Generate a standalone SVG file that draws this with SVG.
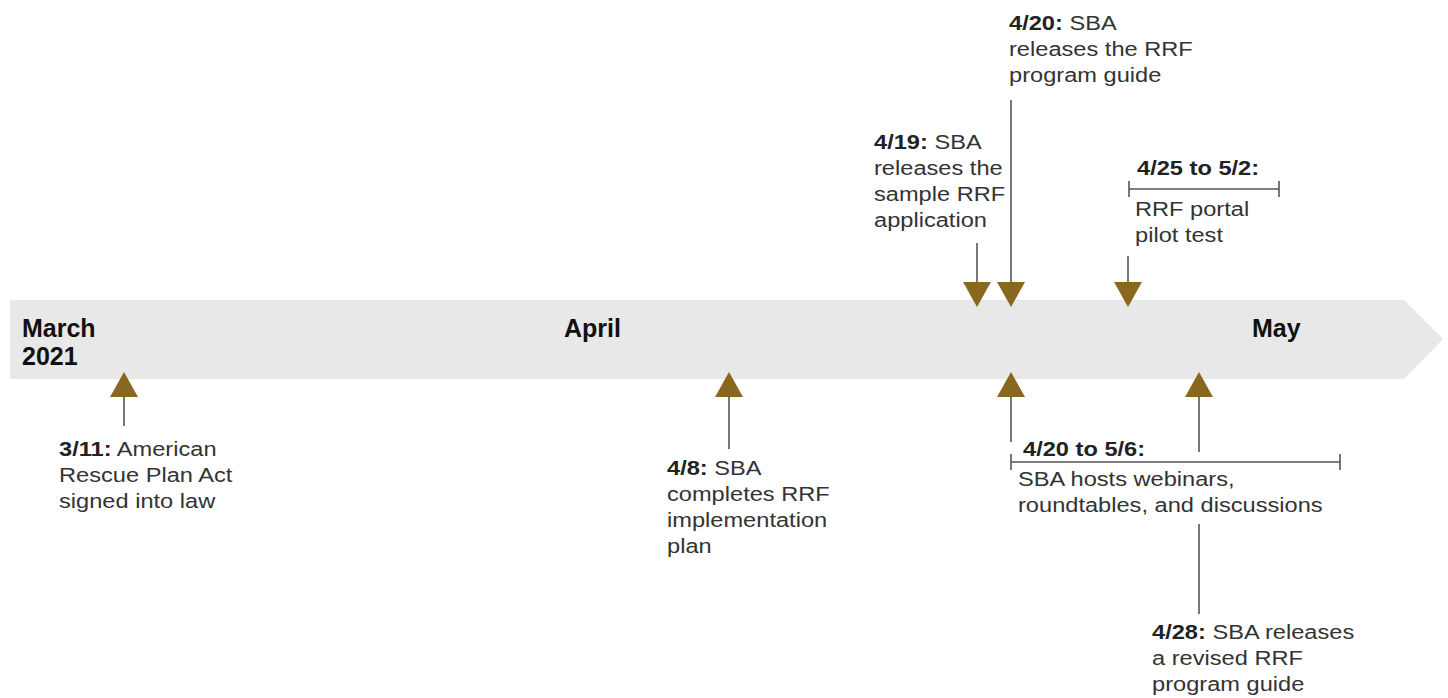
<svg xmlns="http://www.w3.org/2000/svg" width="1448" height="698" viewBox="0 0 1448 698">
<style>
.t{font-family:"Liberation Sans",Arial,sans-serif;font-size:21px;fill:#333}
.b{font-weight:bold;fill:#222}
.m{font-family:"Liberation Sans",Arial,sans-serif;font-size:25px;font-weight:bold;fill:#111}
.ln{stroke:#555;stroke-width:1.6;fill:none}
.tri{fill:#8a671f}
</style>
<rect width="1448" height="698" fill="#fff"/>
<g id="timeline">
<polygon points="10,300 1404,300 1443,339 1404,379 10,379" fill="#e8e8e8"/>
<text class="m" x="22" y="337">March<tspan x="22" y="365">2021</tspan></text>
<text class="m" x="564" y="337">April</text>
<text class="m" x="1252" y="337">May</text>
</g>
<g id="connectors">
<line class="ln" x1="124" y1="396" x2="124" y2="426"/>
<polygon class="tri" points="110,397 138,397 124,372"/>
<line class="ln" x1="729" y1="396" x2="729" y2="449"/>
<polygon class="tri" points="715,397 743,397 729,372"/>
<line class="ln" x1="1011" y1="396" x2="1011" y2="442"/>
<polygon class="tri" points="997,397 1025,397 1011,372"/>
<line class="ln" x1="1199" y1="396" x2="1199" y2="452"/>
<polygon class="tri" points="1185,397 1213,397 1199,372"/>
<line class="ln" x1="1199" y1="524" x2="1199" y2="614"/>
<line class="ln" x1="977" y1="243" x2="977" y2="284"/>
<polygon class="tri" points="963,282 991,282 977,307"/>
<line class="ln" x1="1011" y1="100" x2="1011" y2="284"/>
<polygon class="tri" points="997,282 1025,282 1011,307"/>
<line class="ln" x1="1128" y1="256" x2="1128" y2="284"/>
<polygon class="tri" points="1114,282 1142,282 1128,307"/>
<g id="bracket-0425">
<line class="ln" x1="1129" y1="189" x2="1279" y2="189" stroke-width="1.3"/>
<line class="ln" x1="1129" y1="181" x2="1129" y2="197" stroke-width="1.3"/>
<line class="ln" x1="1279" y1="181" x2="1279" y2="197" stroke-width="1.3"/>
</g>
<g id="bracket-0420">
<line class="ln" x1="1011" y1="462" x2="1340" y2="462" stroke-width="1.3"/>
<line class="ln" x1="1011" y1="454" x2="1011" y2="470" stroke-width="1.3"/>
<line class="ln" x1="1340" y1="454" x2="1340" y2="470" stroke-width="1.3"/>
</g>
</g>
<g id="e0311">
<text class="t" transform="translate(59,456) scale(1.125,1)"><tspan class="b">3/11:</tspan> American<tspan x="0" y="26">Rescue Plan Act</tspan><tspan x="0" y="52">signed into law</tspan></text>
</g>
<g id="e0408">
<text class="t" transform="translate(667,475) scale(1.125,1)"><tspan class="b">4/8:</tspan> SBA<tspan x="0" y="26">completes RRF</tspan><tspan x="0" y="52">implementation</tspan><tspan x="0" y="78">plan</tspan></text>
</g>
<g id="e0419">
<text class="t" transform="translate(874,149) scale(1.125,1)"><tspan class="b">4/19:</tspan> SBA<tspan x="0" y="26">releases the</tspan><tspan x="0" y="52">sample RRF</tspan><tspan x="0" y="78">application</tspan></text>
</g>
<g id="e0420">
<text class="t" transform="translate(1009,30) scale(1.125,1)"><tspan class="b">4/20:</tspan> SBA<tspan x="0" y="26">releases the RRF</tspan><tspan x="0" y="52">program guide</tspan></text>
</g>
<g id="e0425">
<text class="t" transform="translate(1137,175) scale(1.125,1)"><tspan class="b">4/25 to 5/2:</tspan></text>
<text class="t" transform="translate(1135,216) scale(1.125,1)">RRF portal<tspan x="0" y="26">pilot test</tspan></text>
</g>
<g id="e0420b">
<text class="t" transform="translate(1023,456) scale(1.125,1)"><tspan class="b">4/20 to 5/6:</tspan></text>
<text class="t" transform="translate(1018,486) scale(1.125,1)">SBA hosts webinars,<tspan x="0" y="26">roundtables, and discussions</tspan></text>
</g>
<g id="e0428">
<text class="t" transform="translate(1152,639) scale(1.125,1)"><tspan class="b">4/28:</tspan> SBA releases<tspan x="0" y="26">a revised RRF</tspan><tspan x="0" y="52">program guide</tspan></text>
</g>
</svg>
